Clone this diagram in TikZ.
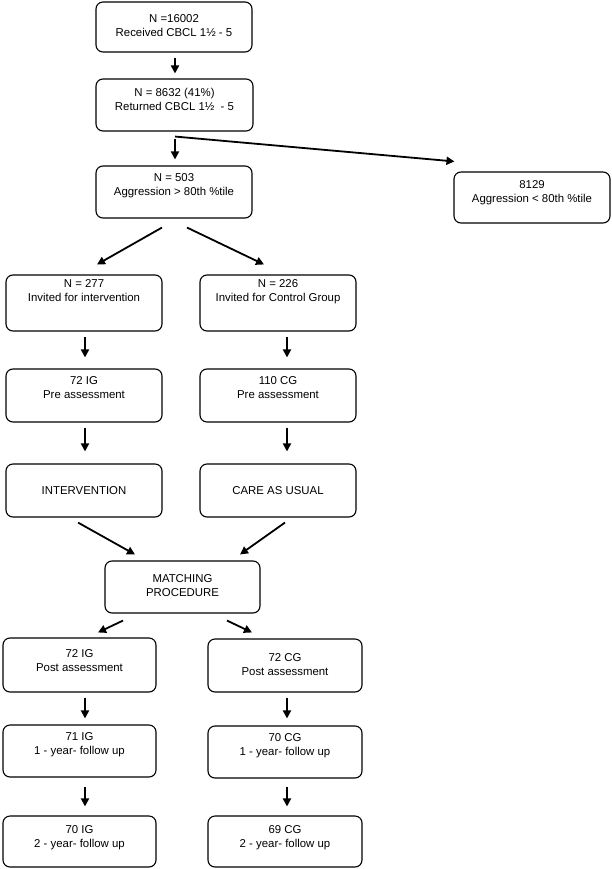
\documentclass[tikz,border=0pt]{standalone}
\usepackage{fontspec}
\setmainfont{Liberation Sans}
\usetikzlibrary{arrows.meta}

\newcommand{\boxlines}[2][0pt]{\begin{tabular}{@{}c@{}}#2\\[#1]\end{tabular}}

\tikzset{
	box/.style={draw, line width=1.1pt, rounded corners=7pt, minimum width=156pt, minimum height=52pt, inner sep=0pt, font=\fontsize{11.4}{14}\selectfont},
	flow/.style={line width=1.8pt, -{Triangle[length=8pt,width=8pt]}}
}

\begin{document}
\begin{tikzpicture}[x=1pt, y=-1pt]
		\useasboundingbox (0,0) rectangle (611,869);

		\node[box, minimum height=50pt] (recv) at (174,27) {\boxlines{N =16002\\Received CBCL 1\textonehalf\ - 5}};
		\node[box, minimum width=157pt] (ret) at (174.5,105) {\boxlines[8pt]{N = 8632 (41\%)\\Returned CBCL 1\textonehalf\ \ - 5}};
		\node[box] (agg) at (174,192) {\boxlines[12pt]{N = 503\\Aggression > 80th \%tile}};
		\node[box, minimum height=51pt] (low) at (532,197.5) {\boxlines[10pt]{8129\\Aggression < 80th \%tile}};

		\node[box, minimum height=56pt] (inv) at (84,303) {\boxlines[22pt]{N = 277\\Invited for intervention}};
		\node[box, minimum height=56pt] (ctl) at (278,303) {\boxlines[22pt]{N = 226\\Invited for Control Group}};
		\node[box, minimum height=53pt] (preig) at (84,395.5) {\boxlines[14pt]{72 IG\\Pre assessment}};
		\node[box, minimum height=53pt] (precg) at (278,395.5) {\boxlines[14pt]{110 CG\\Pre assessment}};
		\node[box, minimum height=53pt] (int) at (84,490.5) {INTERVENTION};
		\node[box, minimum height=53pt] (cau) at (278,490.5) {CARE AS USUAL};

		\node[box, minimum width=155pt] (match) at (182.5,587) {\boxlines{MATCHING\\PROCEDURE}};

		\node[box, minimum width=153pt, minimum height=54pt] (postig) at (79.5,665) {\boxlines[6pt]{72 IG\\Post assessment}};
		\node[box, minimum width=154pt, minimum height=53pt] (postcg) at (285,665.5) {\boxlines{72 CG\\Post assessment}};
		\node[box, minimum width=153pt] (fu1ig) at (79.5,751) {\boxlines[12pt]{71 IG\\1 - year- follow up}};
		\node[box, minimum width=154pt] (fu1cg) at (285,752) {\boxlines[12pt]{70 CG\\1 - year- follow up}};
		\node[box, minimum width=153pt, minimum height=51pt] (fu2ig) at (79.5,841.5) {\boxlines[8pt]{70 IG\\2 - year- follow up}};
		\node[box, minimum width=154pt, minimum height=51pt] (fu2cg) at (285,841.5) {\boxlines[8pt]{69 CG\\2 - year- follow up}};

		\path [flow] ([xshift=1pt,yshift=-5pt]recv.south) edge ([xshift=0.5pt,yshift=5pt]ret.north);
		\path [flow] ([xshift=0.5pt,yshift=-7pt]ret.south) edge ([xshift=1pt,yshift=6pt]agg.north);
		\path [flow] ([xshift=0.5pt,yshift=-5pt]ret.south) edge ([xshift=1pt,yshift=10pt]low.north west);
		\path [flow] ([xshift=-12pt,yshift=-9pt]agg.south) edge ([xshift=13pt,yshift=10pt]inv.north);
		\path [flow] ([xshift=13pt,yshift=-9pt]agg.south) edge ([xshift=-14pt,yshift=10pt]ctl.north);

		\path [flow] ([xshift=1pt,yshift=-5pt]inv.south) edge ([xshift=1pt,yshift=11pt]preig.north);
		\path [flow] ([xshift=9pt,yshift=-5pt]ctl.south) edge ([xshift=9pt,yshift=11pt]precg.north);
		\path [flow] ([xshift=1pt,yshift=-5pt]preig.south) edge ([xshift=1pt,yshift=12pt]int.north);
		\path [flow] ([xshift=9pt,yshift=-5pt]precg.south) edge ([xshift=9pt,yshift=12pt]cau.north);
		\path [flow] ([xshift=-6pt,yshift=-5pt]int.south) edge ([xshift=-47.5pt,yshift=6pt]match.north);
		\path [flow] ([xshift=7pt,yshift=-5pt]cau.south) edge ([xshift=57.5pt,yshift=6pt]match.north);

		\path [flow] ([xshift=-59.5pt,yshift=-7pt]match.south) edge ([xshift=18.5pt,yshift=5pt]postig.north);
		\path [flow] ([xshift=44.5pt,yshift=-7pt]match.south) edge ([xshift=-33pt,yshift=6pt]postcg.north);
		\path [flow] ([xshift=5.5pt,yshift=-5pt]postig.south) edge ([xshift=5.5pt,yshift=6pt]fu1ig.north);
		\path [flow] ([xshift=2pt,yshift=-5pt]postcg.south) edge ([xshift=2pt,yshift=7pt]fu1cg.north);
		\path [flow] ([xshift=5.5pt,yshift=-9pt]fu1ig.south) edge ([xshift=5.5pt,yshift=9pt]fu2ig.north);
		\path [flow] ([xshift=2pt,yshift=-8pt]fu1cg.south) edge ([xshift=2pt,yshift=9pt]fu2cg.north);
	\end{tikzpicture}
\end{document}
